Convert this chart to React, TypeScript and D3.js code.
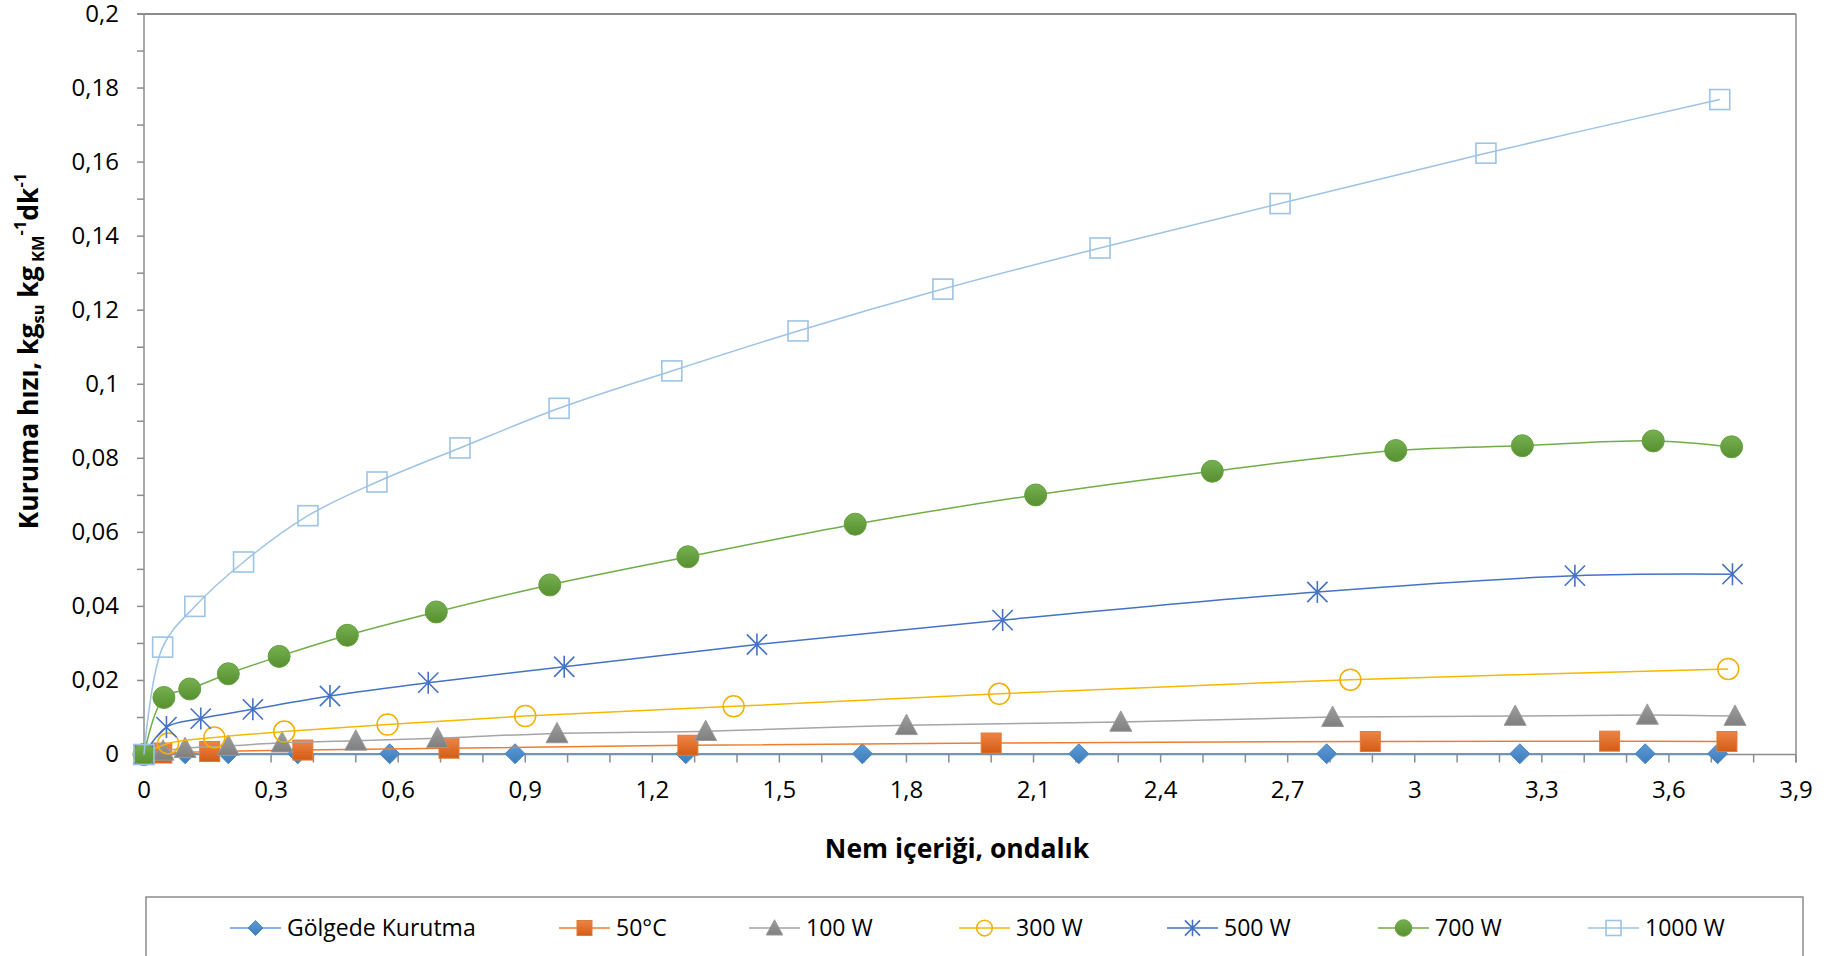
import React from 'react';
import * as d3 from 'd3';

// moisture content (x) and drying rate (y) for each drying method
const shadeX = [0, 0.097, 0.199, 0.363, 0.58, 0.876, 1.279, 1.696, 2.207, 2.792, 3.248, 3.544, 3.715];
const shadeY = [0, 0.0002, 0.0002, 0.0002, 0.0002, 0.0002, 0.0002, 0.0002, 0.0002, 0.0002, 0.0002, 0.0002, 0.0002];

const oven50X = [0, 0.042, 0.155, 0.375, 0.72, 1.284, 2.0, 2.895, 3.46, 3.737];
const oven50Y = [0, 0.0004, 0.0008, 0.0012, 0.0017, 0.0025, 0.0031, 0.0035, 0.0036, 0.0035];

const w100X = [0, 0.045, 0.097, 0.199, 0.326, 0.5, 0.693, 0.975, 1.326, 1.8, 2.306, 2.806, 3.237, 3.549, 3.756];
const w100Y = [0, 0.001, 0.0017, 0.0023, 0.0032, 0.0037, 0.0044, 0.0057, 0.0063, 0.0079, 0.0088, 0.0101, 0.0104, 0.0107, 0.0104];

const w300X = [0, 0.057, 0.166, 0.331, 0.575, 0.9, 1.392, 2.019, 2.848, 3.74];
const w300Y = [0, 0.003, 0.0046, 0.0062, 0.0081, 0.0104, 0.013, 0.0164, 0.0202, 0.0231];

const w500X = [0, 0.053, 0.134, 0.257, 0.439, 0.671, 0.992, 1.447, 2.027, 2.77, 3.378, 3.75];
const w500Y = [0, 0.0074, 0.0097, 0.0122, 0.0158, 0.0194, 0.0237, 0.0297, 0.0363, 0.0439, 0.0483, 0.0487];

const w700X = [0, 0.047, 0.108, 0.199, 0.319, 0.48, 0.69, 0.958, 1.284, 1.679, 2.105, 2.522, 2.955, 3.254, 3.563, 3.748];
const w700Y = [0, 0.0154, 0.0177, 0.0218, 0.0265, 0.0322, 0.0385, 0.0458, 0.0534, 0.0622, 0.0701, 0.0765, 0.0821, 0.0834, 0.0847, 0.0831];

const w1000X = [0, 0.044, 0.12, 0.235, 0.387, 0.55, 0.746, 0.98, 1.246, 1.544, 1.886, 2.257, 2.682, 3.168, 3.72];
const w1000Y = [0, 0.029, 0.04, 0.052, 0.0645, 0.0736, 0.0828, 0.0935, 0.1036, 0.1144, 0.1257, 0.1368, 0.1488, 0.1624, 0.1769];

const seriesNames = ['Gölgede Kurutma', '50°C', '100 W', '300 W', '500 W', '700 W', '1000 W'];

const xTicks = d3.range(0, 40, 3).map(v => v / 10);
const xMinorTicks = d3.range(0, 40, 1).map(v => v / 10);
const yTicks = d3.range(0, 21, 2).map(v => v / 100);
const yMinorTicks = d3.range(0, 21, 1).map(v => v / 100);

const W = 1834;
const H = 956;
const FONT = '"Open Sans", sans-serif';

type MarkerKind = 'diamond' | 'square' | 'triangle' | 'ring' | 'asterisk' | 'dot' | 'box';

type Series = {
  name: string;
  xs: number[];
  ys: number[];
  line: string;
  marker: MarkerKind;
};

const series: Series[] = [
  { name: seriesNames[0], xs: shadeX, ys: shadeY, line: '#5B9BD5', marker: 'diamond' },
  { name: seriesNames[1], xs: oven50X, ys: oven50Y, line: '#ED7D31', marker: 'square' },
  { name: seriesNames[2], xs: w100X, ys: w100Y, line: '#A5A5A5', marker: 'triangle' },
  { name: seriesNames[3], xs: w300X, ys: w300Y, line: '#F5B800', marker: 'ring' },
  { name: seriesNames[4], xs: w500X, ys: w500Y, line: '#4472C4', marker: 'asterisk' },
  { name: seriesNames[5], xs: w700X, ys: w700Y, line: '#70AD47', marker: 'dot' },
  { name: seriesNames[6], xs: w1000X, ys: w1000Y, line: '#9DC3E6', marker: 'box' },
];

const fmt = (v: number) => String(+v.toFixed(2)).replace('.', ',');

function Marker({ kind, cx, cy, s = 1 }: { kind: MarkerKind; cx: number; cy: number; s?: number }) {
  switch (kind) {
    case 'diamond': {
      const r = 10 * s;
      return <path d={`M${cx},${cy - r}L${cx + r},${cy}L${cx},${cy + r}L${cx - r},${cy}Z`} fill="url(#gBlue)" stroke="#4A86C2" strokeWidth={1} />;
    }
    case 'square': {
      const h = 10 * s;
      return <rect x={cx - h} y={cy - h} width={2 * h} height={2 * h} fill="url(#gOrange)" stroke="#E07A3A" strokeWidth={1} />;
    }
    case 'triangle': {
      const h = 11 * s;
      return <path d={`M${cx},${cy - h}L${cx + h},${cy + h * 0.85}L${cx - h},${cy + h * 0.85}Z`} fill="url(#gGray)" stroke="#9A9A9A" strokeWidth={1} />;
    }
    case 'ring':
      return <circle cx={cx} cy={cy} r={10.5 * s} fill="none" stroke="#F2AF00" strokeWidth={1.5} />;
    case 'asterisk': {
      const r = 11 * s;
      const d = r * 0.92;
      return (
        <path
          d={`M${cx},${cy - r}L${cx},${cy + r}M${cx - d},${cy - d}L${cx + d},${cy + d}M${cx - d},${cy + d}L${cx + d},${cy - d}`}
          stroke="#4472C4"
          strokeWidth={1.6}
          fill="none"
        />
      );
    }
    case 'dot':
      return <circle cx={cx} cy={cy} r={11 * s} fill="url(#gGreen)" stroke="#64A23E" strokeWidth={1} />;
    case 'box': {
      const h = 10 * s;
      return <rect x={cx - h} y={cy - h} width={2 * h} height={2 * h} fill="none" stroke="#9DC3E6" strokeWidth={1.6} />;
    }
  }
}

// legend entry starting points, measured along the legend row
const legendStart = [230, 559, 749, 959, 1167, 1378, 1588];

export default function App() {
  const x = d3.scaleLinear().domain([0, 3.9]).range([144, 1796]);
  const y = d3.scaleLinear().domain([0, 0.2]).range([754.5, 14]);

  const line = d3
    .line<[number, number]>()
    .x(d => x(d[0]))
    .y(d => y(d[1]))
    .curve(d3.curveCatmullRom.alpha(0.5));

  const axisColor = '#8C8C8C';
  const [x0, x1] = x.range();
  const [y0, y1] = y.range();

  return (
    <div style={{ position: 'fixed', left: 0, top: 0, width: W, height: H, background: '#fff' }}>
      <svg width={W} height={H} style={{ display: 'block' }} fontFamily={FONT}>
        <defs>
          <linearGradient id="gBlue" x1="0" y1="0" x2="0" y2="1">
            <stop offset="0" stopColor="#5B9BD5" />
            <stop offset="1" stopColor="#3E7CBB" />
          </linearGradient>
          <linearGradient id="gOrange" x1="0" y1="0" x2="0" y2="1">
            <stop offset="0" stopColor="#EE8446" />
            <stop offset="1" stopColor="#D35C14" />
          </linearGradient>
          <linearGradient id="gGray" x1="0" y1="0" x2="0" y2="1">
            <stop offset="0" stopColor="#9E9E9E" />
            <stop offset="1" stopColor="#7F7F7F" />
          </linearGradient>
          <linearGradient id="gGreen" x1="0" y1="0" x2="0" y2="1">
            <stop offset="0" stopColor="#76B04F" />
            <stop offset="1" stopColor="#578F31" />
          </linearGradient>
        </defs>

        {/* plot frame */}
        <line x1={x0 - 7} x2={x1} y1={y1} y2={y1} stroke={axisColor} strokeWidth={2} />
        <line x1={x1} x2={x1} y1={y1} y2={y0} stroke={axisColor} strokeWidth={1.5} />

        {/* y axis */}
        <line x1={x0} x2={x0} y1={y1} y2={y0} stroke={axisColor} strokeWidth={1.5} />
        {yMinorTicks.map(t => (
          <line key={'ym' + t} x1={x0 - 7} x2={x0} y1={y(t)} y2={y(t)} stroke={axisColor} strokeWidth={1.5} />
        ))}
        {yTicks.map(t => (
          <text key={'yt' + t} x={119} y={y(t)} dy="0.33em" textAnchor="end" fontSize={24} fill="#000">
            {fmt(t)}
          </text>
        ))}

        {/* x axis */}
        <line x1={x0} x2={x1} y1={y0} y2={y0} stroke={axisColor} strokeWidth={1.5} />
        {xMinorTicks.map(t => (
          <line key={'xm' + t} x1={x(t)} x2={x(t)} y1={y0} y2={y0 + 8} stroke={axisColor} strokeWidth={1.5} />
        ))}
        <line x1={x1} x2={x1} y1={y0} y2={y0 + 8} stroke={axisColor} strokeWidth={1.5} />
        {xTicks.map(t => (
          <text key={'xt' + t} x={x(t)} y={798} textAnchor="middle" fontSize={24} fill="#000">
            {fmt(t)}
          </text>
        ))}

        {/* series */}
        {series.map(s => {
          const pts = s.xs.map((v, i) => [v, s.ys[i]] as [number, number]);
          return (
            <g key={s.name}>
              <path d={line(pts) ?? ''} fill="none" stroke={s.line} strokeWidth={1.5} />
              {pts.map((p, i) => (
                <Marker key={i} kind={s.marker} cx={x(p[0])} cy={y(p[1])} />
              ))}
            </g>
          );
        })}

        {/* axis titles */}
        <text x={957} y={858} textAnchor="middle" fontSize={26.5} fontWeight="bold" fill="#000">
          Nem içeriği, ondalık
        </text>
        <text transform="translate(38,351) rotate(-90)" textAnchor="middle" fontSize={26.5} fontWeight="bold" fill="#000">
          Kuruma hızı, kg
          <tspan fontSize={16.5} dy={6}>su</tspan>
          <tspan dy={-6}> kg</tspan>
          <tspan fontSize={16.5} dy={6}> KM</tspan>
          <tspan fontSize={16.5} dy={-18}>-1</tspan>
          <tspan dy={12}>dk</tspan>
          <tspan fontSize={16.5} dy={-12}>-1</tspan>
        </text>

        {/* legend */}
        <rect x={146} y={897} width={1657} height={90} fill="#fff" stroke="#8C8C8C" strokeWidth={1.5} />
        {series.map((s, i) => {
          const lx = legendStart[i];
          const ly = 928;
          return (
            <g key={'lg' + s.name}>
              <line x1={lx} x2={lx + 51} y1={ly} y2={ly} stroke={s.line} strokeWidth={1.5} />
              <Marker kind={s.marker} cx={lx + 25.5} cy={ly} s={0.75} />
              <text x={lx + 57} y={ly} dy="0.36em" fontSize={23} fill="#000">
                {s.name}
              </text>
            </g>
          );
        })}
      </svg>
    </div>
  );
}
